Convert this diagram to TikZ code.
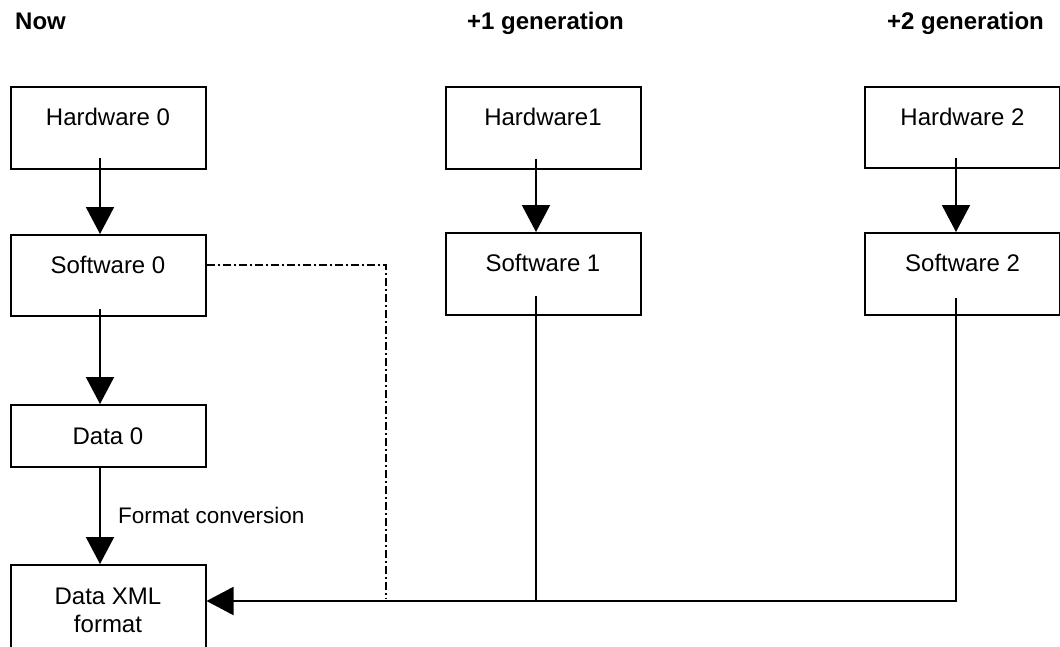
\documentclass[tikz,border=0pt]{standalone}
\usepackage{fontspec}
\setmainfont{Liberation Sans}
\usetikzlibrary{arrows.meta}
\begin{document}
\begin{tikzpicture}[x=1pt,y=-1pt,
  box/.style={draw, line width=2pt, minimum width=195pt, inner sep=0pt,
    font=\fontsize{24}{27.5}\selectfont},
  toptext/.style={text height=17.2pt, text depth=22pt},
  midtext/.style={text height=17.2pt, text depth=0pt},
  arr/.style={line width=2pt, -{Triangle[length=27pt,width=28pt]}},
  wire/.style={line width=2pt},
  dd/.style={line width=2pt, dash pattern=on 8pt off 3pt on 2pt off 3pt},
  title/.style={anchor=base west, inner sep=0pt,
    font=\bfseries\fontsize{24}{29}\selectfont},
  note/.style={anchor=base west, inner sep=0pt,
    font=\fontsize{22.5}{27}\selectfont},
]
\clip (0,0) rectangle (1060,646);

% column headings
\node[title] (tnow) at (15,29) {Now};
\node[title] (tone) at (467,29) {+1 generation};
\node[title] (ttwo) at (887,29) {+2 generation};

% current generation
\node[box,toptext,minimum height=82pt] (hw0) at (108,128) {Hardware 0};
\node[box,toptext,minimum height=81pt] (sw0) at (108,275.5) {Software 0};
\node[box,midtext,minimum height=62pt] (d0) at (108,436) {Data 0};
\node[box,align=center,minimum height=91pt] (xml) at (108,610.5) {Data XML\\format};

% next generations
\node[box,toptext,minimum height=82pt] (hw1) at (543,127.5) {Hardware1};
\node[box,toptext,minimum height=82pt] (sw1) at (543,274) {Software 1};
\node[box,toptext,minimum height=81pt] (hw2) at (962.5,127.5) {Hardware 2};
\node[box,toptext,minimum height=82pt] (sw2) at (962.5,274) {Software 2};

\node[note] (conv) at (118,523.6) {Format conversion};

% vertical flows
\draw[arr] ([xshift=-8pt,yshift=12pt]hw0.south) -- ([xshift=-8pt]sw0.north);
\draw[arr] ([xshift=-8pt,yshift=8pt]sw0.south) -- ([xshift=-8pt]d0.north);
\draw[arr] ([xshift=-8pt]d0.south) -- ([xshift=-8pt]xml.north);
\draw[arr] ([xshift=-7pt,yshift=11pt]hw1.south) -- ([xshift=-7pt]sw1.north);
\draw[arr] ([xshift=-6.5pt,yshift=11pt]hw2.south) -- ([xshift=-6.5pt]sw2.north);

% collecting bus into the XML data
\coordinate (bus) at ([yshift=9.5pt]xml.east);
\draw[arr] ([xshift=-6.5pt,yshift=18pt]sw2.south) |- (bus);
\draw[wire] ([xshift=-7pt,yshift=20pt]sw1.south) -- ([xshift=-7pt]sw1.south |- bus);
\coordinate (ddend) at (386,599);
\draw[dd] ([yshift=10.5pt]sw0.east) -| (ddend);
\end{tikzpicture}
\end{document}
